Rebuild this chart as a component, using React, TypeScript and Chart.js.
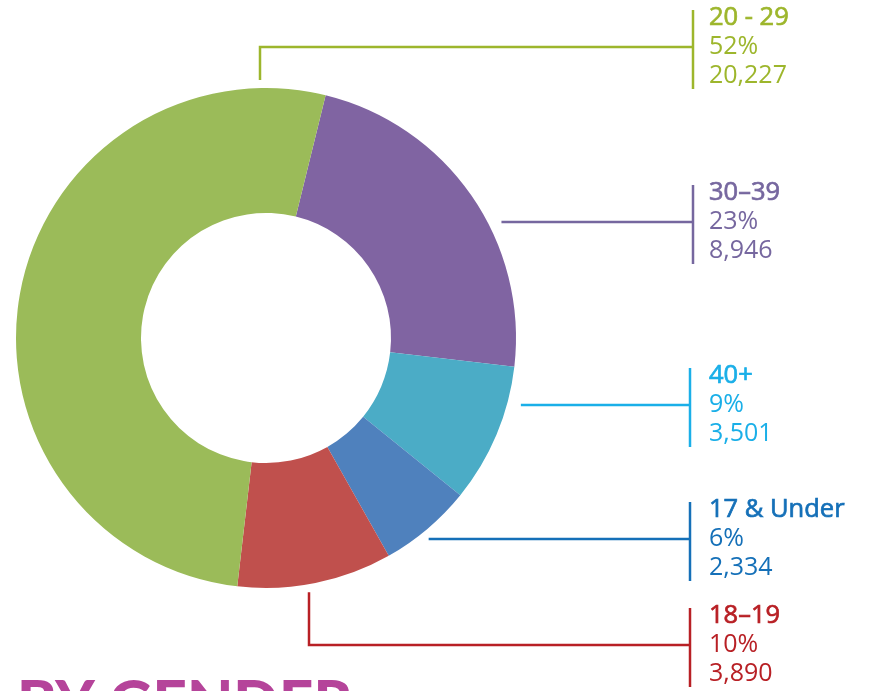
import React, { useEffect, useRef } from "react";
import { Chart, registerables } from "chart.js";

Chart.register(...registerables);

const categories = ["30–39", "40+", "17 & Under", "18–19", "20 - 29"];
const counts = [8946, 3501, 2334, 3890, 20227];
const countLabels = ["8,946", "3,501", "2,334", "3,890", "20,227"];
const percentLabels = ["23%", "9%", "6%", "10%", "52%"];
const sliceColors = ["#8064A2", "#4BACC6", "#4F81BD", "#C0504D", "#9BBB59"];
const textColors = ["#76679F", "#1AAFE8", "#1570B8", "#B82025", "#9DB62C"];
const titleText = "BY GENDER";

// layout of callouts: middle text line y, bar x, leader type
const callouts = [
  { y: 222, barX: 693, kind: "h" },
  { y: 405, barX: 690, kind: "h" },
  { y: 539, barX: 690, kind: "h" },
  { y: 645, barX: 690, kind: "down", dx: 43 },
  { y: 47, barX: 693, kind: "up", dx: -6 },
];

const calloutPlugin = {
  id: "callouts",
  afterDraw(chart: any) {
    const ctx = chart.ctx;
    const arc = chart.getDatasetMeta(0).data[0];
    const cx = arc.x;
    const cy = arc.y;
    const r = arc.outerRadius;
    ctx.save();
    callouts.forEach((c: any, i: number) => {
      const col = textColors[i];
      ctx.strokeStyle = col;
      ctx.lineWidth = 2.5;
      ctx.beginPath();
      if (c.kind === "h") {
        const dy = c.y - cy;
        const sx = cx + Math.sqrt(Math.max(r * r - dy * dy, 0)) + 14;
        ctx.moveTo(sx, c.y);
        ctx.lineTo(c.barX, c.y);
      } else {
        const x = cx + c.dx;
        const edge = Math.sqrt(r * r - c.dx * c.dx);
        const sy = c.kind === "up" ? cy - edge - 8 : cy + edge + 8;
        ctx.moveTo(x, sy);
        ctx.lineTo(x, c.y);
        ctx.lineTo(c.barX, c.y);
      }
      ctx.stroke();
      ctx.beginPath();
      ctx.moveTo(c.barX, c.y - 37);
      ctx.lineTo(c.barX, c.y + 42);
      ctx.stroke();
      ctx.fillStyle = col;
      ctx.textBaseline = "middle";
      ctx.textAlign = "left";
      ctx.font = "400 25.5px 'Open Sans'";
      ctx.fillText(categories[i], 709, c.y - 29);
      ctx.lineWidth = 0.7;
      ctx.strokeText(categories[i], 709, c.y - 29);
      ctx.font = "400 25px 'Open Sans'";
      ctx.fillText(percentLabels[i], 709, c.y);
      ctx.fillText(countLabels[i], 709, c.y + 29);
    });
    ctx.fillStyle = "#B5449A";
    ctx.font = "900 60px Lato";
    ctx.textBaseline = "alphabetic";
    ctx.fillText(titleText, 17, 724);
    ctx.restore();
  },
};

export default function App() {
  const ref = useRef<HTMLCanvasElement>(null);
  useEffect(() => {
    const chart = new Chart(ref.current as HTMLCanvasElement, {
      type: "doughnut",
      data: {
        labels: categories,
        datasets: [
          {
            data: counts,
            backgroundColor: sliceColors,
            borderWidth: 0,
          },
        ],
      },
      options: {
        animation: false,
        responsive: false,
        maintainAspectRatio: false,
        cutout: "50%",
        rotation: 13.8,
        layout: { padding: { left: 16, right: 354, top: 88, bottom: 103 } },
        plugins: { legend: { display: false }, tooltip: { enabled: false } },
      },
      plugins: [calloutPlugin],
    } as any);
    return () => chart.destroy();
  }, []);
  return (
    <div style={{ position: "absolute", left: 0, top: 0, width: 870, height: 691, background: "#fff" }}>
      <canvas ref={ref} width={870} height={691} />
    </div>
  );
}
